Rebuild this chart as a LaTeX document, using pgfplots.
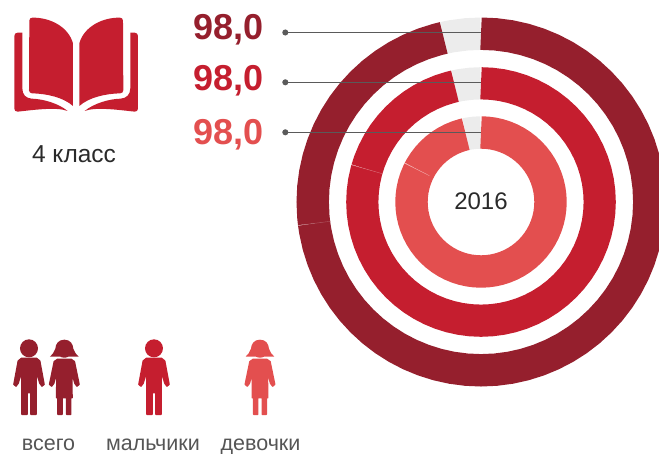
\documentclass[border=0pt]{standalone}
\usepackage{pgfplots}
\pgfplotsset{compat=1.18}
\usepackage{fontspec}
\setmainfont{Liberation Sans}
\definecolor{cA}{HTML}{951F2D}
\definecolor{cB}{HTML}{C51E2F}
\definecolor{cC}{HTML}{E34F4F}
\definecolor{cG}{HTML}{ECECEC}
\definecolor{cT}{HTML}{2A2A2A}
\definecolor{cL}{HTML}{5A5A5A}
\newcommand{\boy}[2]{% x centre in zoom units, colour
\begin{scope}[shift={(#1,0)}]
\fill[#2] (0,55) circle (27);
\filldraw[fill=#2,draw=#2,line width=1.6pt,line join=round] (-22,85) -- (22,85) -- (32,93) -- (45,163) -- (39,168) -- (33,160) -- (21,122) -- (21,253) -- (6,253) -- (6,188) -- (-6,188) -- (-6,253) -- (-21,253) -- (-21,122) -- (-33,160) -- (-39,168) -- (-45,163) -- (-32,93) -- cycle;
\end{scope}}
\newcommand{\girl}[2]{%
\begin{scope}[shift={(#1,0)}]
\fill[#2] (0,29) .. controls (-18,29) and (-26,42) .. (-27,56) .. controls (-30,66) and (-36,74) .. (-43,80) -- (-12,80) .. controls (-6,84) and (6,84) .. (12,80) -- (43,80) .. controls (36,74) and (30,66) .. (27,56) .. controls (26,42) and (18,29) .. (0,29) -- cycle;
\filldraw[fill=#2,draw=#2,line width=1.6pt,line join=round] (-20,88) -- (20,88) -- (30,95) -- (44,163) -- (38,168) -- (32,160) -- (22,125) -- (23,203) -- (19,203) -- (19,253) -- (7,253) -- (7,203) -- (-7,203) -- (-7,253) -- (-19,253) -- (-19,203) -- (-23,203) -- (-22,125) -- (-32,160) -- (-38,168) -- (-44,163) -- (-30,95) -- cycle;
\end{scope}}
\begin{document}
\begin{tikzpicture}
\path[use as bounding box] (0,0) rectangle (659pt,453pt);
\begin{axis}[at={(0,0)},anchor=south west,scale only axis,width=659pt,height=453pt,
  xmin=-481,xmax=178,ymin=-251,ymax=202,hide axis,clip=true]
% grey remainder of each ring
\addplot[cG,line width=32.4pt,data cs=polar] coordinates {(90,168.3)(95,168.3)(100,168.3)(102.8,168.3)};
\addplot[cG,line width=32.2pt,data cs=polar] coordinates {(90,118.7)(95,118.7)(100,118.7)(102.7,118.7)};
\addplot[cG,line width=32.4pt,data cs=polar] coordinates {(90,69.5)(95,69.5)(100,69.5)(102.7,69.5)};
% outer ring
\addplot[cA,line width=32.4pt,data cs=polar] coordinates {(90,168.3)(85,168.3)(80,168.3)(75,168.3)(70,168.3)(65,168.3)(60,168.3)(55,168.3)(50,168.3)(45,168.3)(40,168.3)(35,168.3)(30,168.3)(25,168.3)(20,168.3)(15,168.3)(10,168.3)(5,168.3)(0,168.3)(-5,168.3)(-10,168.3)(-15,168.3)(-20,168.3)(-25,168.3)(-30,168.3)(-35,168.3)(-40,168.3)(-45,168.3)(-50,168.3)(-55,168.3)(-60,168.3)(-65,168.3)(-70,168.3)(-75,168.3)(-80,168.3)(-85,168.3)(-90,168.3)(-95,168.3)(-100,168.3)(-105,168.3)(-110,168.3)(-115,168.3)(-120,168.3)(-125,168.3)(-130,168.3)(-135,168.3)(-140,168.3)(-145,168.3)(-150,168.3)(-155,168.3)(-160,168.3)(-165,168.3)(-170,168.3)(-172.7,168.3)};
\addplot[cA,line width=32.4pt,data cs=polar] coordinates {(-172.7,168.3)(-175,168.3)(-180,168.3)(-185,168.3)(-190,168.3)(-195,168.3)(-200,168.3)(-205,168.3)(-210,168.3)(-215,168.3)(-220,168.3)(-225,168.3)(-230,168.3)(-235,168.3)(-240,168.3)(-245,168.3)(-250,168.3)(-255,168.3)(-257.2,168.3)};
% middle ring
\addplot[cB,line width=32.2pt,data cs=polar] coordinates {(90,118.7)(85,118.7)(80,118.7)(75,118.7)(70,118.7)(65,118.7)(60,118.7)(55,118.7)(50,118.7)(45,118.7)(40,118.7)(35,118.7)(30,118.7)(25,118.7)(20,118.7)(15,118.7)(10,118.7)(5,118.7)(0,118.7)(-5,118.7)(-10,118.7)(-15,118.7)(-20,118.7)(-25,118.7)(-30,118.7)(-35,118.7)(-40,118.7)(-45,118.7)(-50,118.7)(-55,118.7)(-60,118.7)(-65,118.7)(-70,118.7)(-75,118.7)(-80,118.7)(-85,118.7)(-90,118.7)(-95,118.7)(-100,118.7)(-105,118.7)(-110,118.7)(-115,118.7)(-120,118.7)(-125,118.7)(-130,118.7)(-135,118.7)(-140,118.7)(-145,118.7)(-150,118.7)(-155,118.7)(-160,118.7)(-165,118.7)(-170,118.7)(-175,118.7)(-180,118.7)(-185,118.7)(-190,118.7)(-195,118.7)(-196,118.7)};
\addplot[cB,line width=32.2pt,data cs=polar] coordinates {(-196,118.7)(-200,118.7)(-205,118.7)(-210,118.7)(-215,118.7)(-220,118.7)(-225,118.7)(-230,118.7)(-235,118.7)(-240,118.7)(-245,118.7)(-250,118.7)(-255,118.7)(-257.3,118.7)};
% inner ring
\addplot[cC,line width=32.4pt,data cs=polar] coordinates {(90,69.5)(85,69.5)(80,69.5)(75,69.5)(70,69.5)(65,69.5)(60,69.5)(55,69.5)(50,69.5)(45,69.5)(40,69.5)(35,69.5)(30,69.5)(25,69.5)(20,69.5)(15,69.5)(10,69.5)(5,69.5)(0,69.5)(-5,69.5)(-10,69.5)(-15,69.5)(-20,69.5)(-25,69.5)(-30,69.5)(-35,69.5)(-40,69.5)(-45,69.5)(-50,69.5)(-55,69.5)(-60,69.5)(-65,69.5)(-70,69.5)(-75,69.5)(-80,69.5)(-85,69.5)(-90,69.5)(-95,69.5)(-100,69.5)(-105,69.5)(-110,69.5)(-115,69.5)(-120,69.5)(-125,69.5)(-130,69.5)(-135,69.5)(-140,69.5)(-145,69.5)(-150,69.5)(-155,69.5)(-160,69.5)(-165,69.5)(-170,69.5)(-175,69.5)(-180,69.5)(-185,69.5)(-190,69.5)(-195,69.5)(-200,69.5)(-205,69.5)(-207,69.5)};
\addplot[cC,line width=32.4pt,data cs=polar] coordinates {(-207,69.5)(-210,69.5)(-215,69.5)(-220,69.5)(-225,69.5)(-230,69.5)(-235,69.5)(-240,69.5)(-245,69.5)(-250,69.5)(-255,69.5)(-257.3,69.5)};
% hairlines between slices
\addplot[cA!75!white,line width=0.4pt,data cs=polar] coordinates {(187.3,152)(187.3,184.5)};
\addplot[cB!65!white,line width=0.4pt,data cs=polar] coordinates {(164,103)(164,134.7)};
\addplot[cC!50!white,line width=0.4pt,data cs=polar] coordinates {(153,58)(153,85.7)};
% leader lines
\addplot[cL,line width=1pt,mark=*,mark size=2.5pt,mark indices={1},mark options={fill=cL,draw=cL}] coordinates {(-195.7,169.5)(0,169.5)};
\addplot[cL,line width=1pt,mark=*,mark size=2.5pt,mark indices={1},mark options={fill=cL,draw=cL}] coordinates {(-195.7,119.7)(0,119.7)};
\addplot[cL,line width=1pt,mark=*,mark size=2.5pt,mark indices={1},mark options={fill=cL,draw=cL}] coordinates {(-195.7,69.7)(0,69.7)};
\end{axis}
\begin{scope}[x=1pt,y=-1pt,yshift=453pt]
\node[font=\fontsize{36}{36}\selectfont\bfseries,text=cA,inner sep=0,anchor=base east] at (264,40) {98,0};
\node[font=\fontsize{36}{36}\selectfont\bfseries,text=cB,inner sep=0,anchor=base east] at (264,91) {98,0};
\node[font=\fontsize{36}{36}\selectfont\bfseries,text=cC,inner sep=0,anchor=base east] at (264,144.5) {98,0};
\node[font=\fontsize{24}{24}\selectfont,text=cT,inner sep=0,anchor=base] at (481,210) {2016};
\node[font=\fontsize{24.5}{24.5}\selectfont,text=cT,inner sep=0,anchor=base] at (74,163) {4 класс};
\node[font=\fontsize{21.5}{21.5}\selectfont,text=cT!80!white,inner sep=0,anchor=base] at (48.5,450) {всего};
\node[font=\fontsize{21.5}{21.5}\selectfont,text=cT!80!white,inner sep=0,anchor=base] at (153,450) {мальчики};
\node[font=\fontsize{21.5}{21.5}\selectfont,text=cT!80!white,inner sep=0,anchor=base] at (260.5,450) {девочки};
\begin{scope}[x=0.3333pt,y=-0.3333pt]
% book (zoom units)
\fill[cB] (88,62) .. controls (88,56) and (92,53) .. (97,53) .. controls (150,52) and (205,80) .. (219,130) -- (219,318) .. controls (190,292) and (140,281) .. (96,280) .. controls (91,280) and (87,276) .. (87,271) -- cycle;
\fill[cB] (369,62) .. controls (369,56) and (365,53) .. (360,53) .. controls (307,52) and (252,80) .. (238,130) -- (238,318) .. controls (267,292) and (317,281) .. (361,280) .. controls (366,280) and (370,276) .. (370,271) -- cycle;
\fill[cB] (67,98) -- (53,98) .. controls (47,98) and (43,102) .. (43,108) -- (43,326) .. controls (43,332) and (47,335) .. (53,335) .. controls (100,330) and (170,320) .. (203,333) .. controls (175,310) and (130,297) .. (95,296) .. controls (78,295) and (67,284) .. (67,265) -- cycle;
\fill[cB] (391,98) -- (404,98) .. controls (410,98) and (414,102) .. (414,108) -- (414,326) .. controls (414,332) and (410,335) .. (404,335) .. controls (357,330) and (287,320) .. (254,333) .. controls (282,310) and (327,297) .. (362,296) .. controls (379,295) and (391,284) .. (391,265) -- cycle;
\end{scope}
\begin{scope}[x=0.3333pt,y=-0.3333pt,yshift=-330pt]
\boy{87}{cA}
\girl{193}{cA}
\boy{462}{cB}
\girl{780}{cC}
\end{scope}
\end{scope}
\end{tikzpicture}
\end{document}
